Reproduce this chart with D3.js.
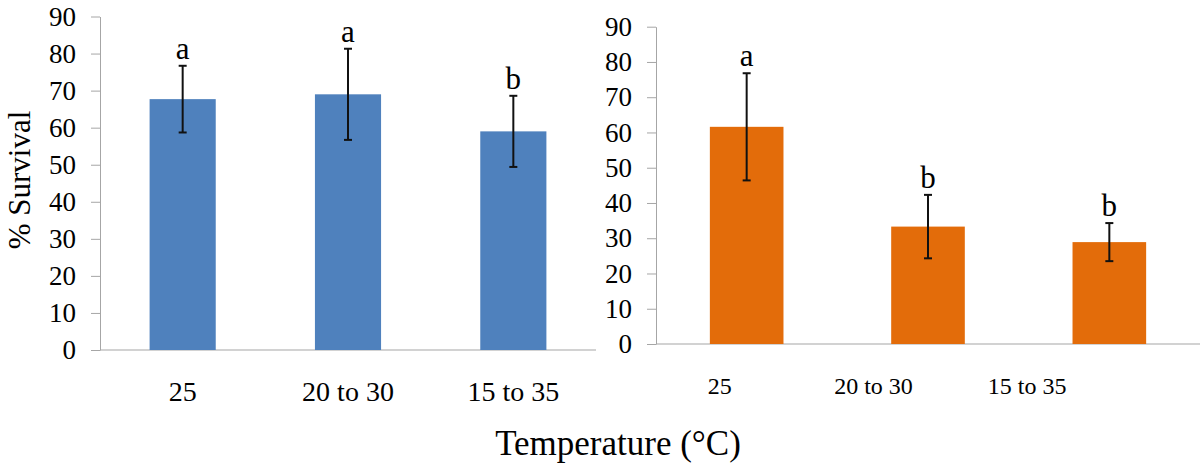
<!DOCTYPE html>
<html>
<head>
<meta charset="utf-8">
<script src="https://cdn.jsdelivr.net/npm/d3@7/dist/d3.min.js"></script>
</head>
<body style="margin:0">
<svg id="chart" width="1200" height="466"></svg>
<script>
// ---- data ----
const categories = ["25", "20 to 30", "15 to 35"];
const yTicks = [0, 10, 20, 30, 40, 50, 60, 70, 80, 90];

const leftMeans   = [67.7, 69.0, 59.0];
const leftErrors  = [9.0, 12.3, 9.6];
const leftLetters = ["a", "a", "b"];

const rightMeans   = [61.6, 33.3, 28.9];
const rightErrors  = [15.2, 9.0, 5.4];
const rightLetters = ["a", "b", "b"];

const yTitle = "% Survival";
const xTitle = "Temperature (\u00B0C)";

// ---- drawing ----
const FONT = "Liberation Serif";
const svg = d3.select("#chart");
const axisColor = "#a6a6a6";

function panel(opts) {
  const g = svg.append("g");
  const x = d3.scaleBand().domain(categories).range(opts.xRange)
    .paddingInner(opts.padInner).paddingOuter(opts.padOuter);
  const y = d3.scaleLinear().domain([0, 90]).range(opts.yRange);
  const xl = d3.scaleBand().domain(categories).range(opts.labelRange);

  // y axis
  const yAxis = d3.axisLeft(y).tickValues(yTicks).tickSize(9).tickPadding(opts.tickPad)
    .tickSizeOuter(0);
  const ya = g.append("g").attr("transform", `translate(${opts.xRange[0]},0)`).call(yAxis);
  ya.attr("font-family", FONT).attr("font-size", opts.tickFont);
  ya.select(".domain").attr("stroke", axisColor);
  ya.selectAll(".tick line").attr("stroke", axisColor);
  ya.selectAll(".tick text")
    .style("font-family", FONT).style("font-size", opts.tickFont + "px")
    .attr("fill", "#000");

  // baseline
  g.append("line")
    .attr("x1", opts.xRange[0]).attr("x2", opts.xRange[1])
    .attr("y1", y(0)).attr("y2", y(0))
    .attr("stroke", axisColor).attr("stroke-width", 1.2);

  const data = categories.map((c, i) => ({ c, m: opts.means[i], e: opts.errors[i], l: opts.letters[i] }));

  // bars
  g.selectAll("rect.bar").data(data).enter().append("rect")
    .attr("class", "bar")
    .attr("x", d => x(d.c)).attr("width", x.bandwidth())
    .attr("y", d => y(d.m)).attr("height", d => y(0) - y(d.m))
    .attr("fill", opts.color);

  // error bars
  const cx = d => x(d.c) + x.bandwidth() / 2;
  const eb = g.selectAll("g.err").data(data).enter().append("g").attr("class", "err")
    .attr("stroke", "#111").attr("stroke-width", 2);
  eb.append("line").attr("x1", cx).attr("x2", cx)
    .attr("y1", d => y(d.m + d.e)).attr("y2", d => y(d.m - d.e));
  eb.append("line").attr("x1", d => cx(d) - 4).attr("x2", d => cx(d) + 4)
    .attr("y1", d => y(d.m + d.e)).attr("y2", d => y(d.m + d.e));
  eb.append("line").attr("x1", d => cx(d) - 4).attr("x2", d => cx(d) + 4)
    .attr("y1", d => y(d.m - d.e)).attr("y2", d => y(d.m - d.e));

  // letters
  g.selectAll("text.letter").data(data).enter().append("text")
    .attr("class", "letter")
    .attr("x", cx).attr("y", d => y(d.m + d.e) - 7)
    .attr("text-anchor", "middle")
    .style("font-family", FONT).style("font-size", opts.letterFont + "px")
    .text(d => d.l);

  // x labels
  g.selectAll("text.xlab").data(categories).enter().append("text")
    .attr("class", "xlab")
    .attr("x", d => xl(d) + xl.bandwidth() / 2).attr("y", opts.labelY)
    .attr("text-anchor", "middle")
    .style("font-family", FONT).style("font-size", opts.labelFont + "px")
    .text(d => d);
}

panel({
  xRange: [100, 596], yRange: [350, 16.5], padInner: 0.6, padOuter: 0.3,
  labelRange: [100, 596], labelY: 401, labelFont: 28, tickFont: 27, tickPad: 15,
  letterFont: 31, color: "#4f81bd",
  means: leftMeans, errors: leftErrors, letters: leftLetters
});

panel({
  xRange: [656, 1200], yRange: [344, 26.7], padInner: 0.594, padOuter: 0.297,
  labelRange: [643, 1104], labelY: 394, labelFont: 24, tickFont: 27, tickPad: 15,
  letterFont: 31, color: "#e36c0a",
  means: rightMeans, errors: rightErrors, letters: rightLetters
});

// titles
svg.append("text")
  .attr("transform", "translate(30,180) rotate(-90)")
  .attr("text-anchor", "middle")
  .style("font-family", FONT).style("font-size", "31px")
  .text(yTitle);

svg.append("text")
  .attr("x", 618).attr("y", 455)
  .attr("text-anchor", "middle")
  .style("font-family", FONT).style("font-size", "35px")
  .text(xTitle);
</script>
</body>
</html>
